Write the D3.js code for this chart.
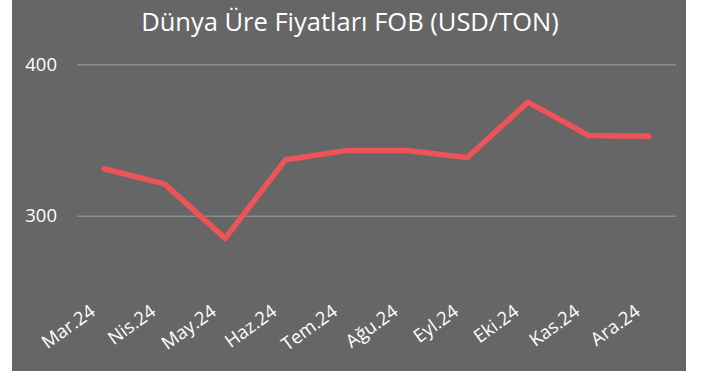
<!DOCTYPE html>
<html>
<head>
<meta charset="utf-8">
<script src="https://cdn.jsdelivr.net/npm/d3@7"></script>
<style>
  html, body { margin: 0; padding: 0; background: #ffffff; }
  svg { display: block; }
  text { font-family: "Open Sans", "Noto Sans", sans-serif; fill: #ffffff; }
</style>
</head>
<body>
<svg id="chart" width="705" height="378"></svg>
<script>
// Monthly urea prices, FOB, USD per ton
const months = ["Mar.24", "Nis.24", "May.24", "Haz.24", "Tem.24", "Ağu.24", "Eyl.24", "Eki.24", "Kas.24", "Ara.24"];
const prices = [331, 321, 285, 337, 343, 343, 338.5, 375, 353, 352.5];
const yTicks = [300, 400];
const title = "Dünya Üre Fiyatları FOB (USD/TON)";

const svg = d3.select("#chart");

// chart panel
svg.append("rect")
  .attr("x", 12).attr("y", 0)
  .attr("width", 674).attr("height", 371)
  .attr("fill", "#666666");

const plotLeft = 77, plotRight = 676;

const x = d3.scalePoint()
  .domain(months)
  .range([104, 649]);

const y = d3.scaleLinear()
  .domain([300, 400])
  .range([215.7, 64.3]);

// title
svg.append("text")
  .attr("x", 350).attr("y", 31)
  .attr("text-anchor", "middle")
  .attr("font-size", 25.5)
  .text(title);

// horizontal gridlines and value labels
const yAxis = d3.axisLeft(y)
  .tickValues(yTicks)
  .tickSize(-(plotRight - plotLeft))
  .tickPadding(20)
  .tickFormat(d3.format("d"));

const gy = svg.append("g")
  .attr("transform", `translate(${plotLeft},0)`)
  .call(yAxis);
gy.select(".domain").remove();
gy.selectAll(".tick line")
  .attr("stroke", "#8c8c8c")
  .attr("stroke-width", 1.5);
gy.selectAll(".tick text")
  .attr("font-size", 18.5)
  .attr("fill", "#ffffff")
  .attr("font-family", "'Open Sans', 'Noto Sans', sans-serif");

// category labels, slanted
const xAxis = d3.axisBottom(x).tickSize(0).tickPadding(0);
const gx = svg.append("g")
  .attr("transform", "translate(0,314)")
  .call(xAxis);
gx.select(".domain").remove();
gx.selectAll(".tick text")
  .attr("font-size", 18.5)
  .attr("fill", "#ffffff")
  .attr("font-family", "'Open Sans', 'Noto Sans', sans-serif")
  .attr("text-anchor", "end")
  .attr("dy", "0")
  .attr("transform", "translate(-8,0) rotate(-36)");

// price line
const line = d3.line()
  .x((d, i) => x(months[i]))
  .y(d => y(d));

svg.append("path")
  .datum(prices)
  .attr("d", line)
  .attr("fill", "none")
  .attr("stroke", "#ee5357")
  .attr("stroke-width", 5.5)
  .attr("stroke-linejoin", "round")
  .attr("stroke-linecap", "round");
</script>
</body>
</html>
